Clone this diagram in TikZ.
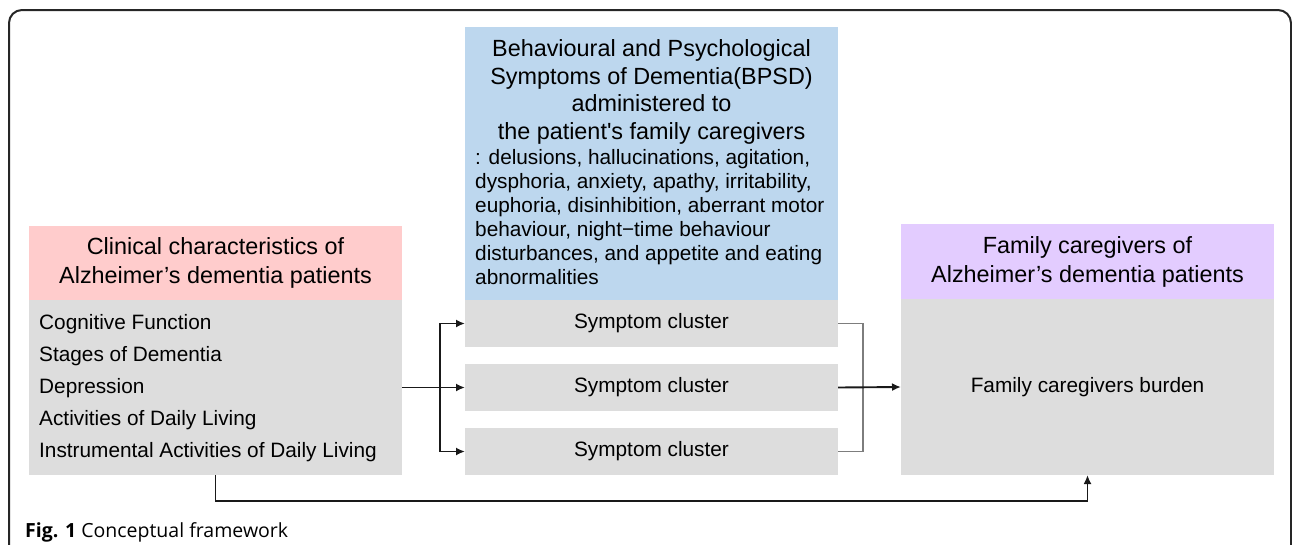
\documentclass[tikz,border=0pt]{standalone}
\usepackage{fontspec}
\newfontfamily\lsans{Liberation Sans}
\newfontfamily\capfont{Open Sans}
\usetikzlibrary{arrows.meta}
\definecolor{pinkc}{RGB}{255,204,204}
\definecolor{bluec}{RGB}{189,215,238}
\definecolor{lilac}{RGB}{227,204,255}
\definecolor{grayc}{RGB}{221,221,221}
\definecolor{bracketc}{RGB}{125,125,125}
\definecolor{linec}{RGB}{25,25,25}
\begin{document}
\begin{tikzpicture}[x=1pt,y=-1pt,
  box/.style={inner sep=0pt, outer sep=0pt, anchor=north west, draw=none},
  title/.style={inner sep=0pt, align=center, font=\lsans\fontsize{23.4}{29}\selectfont},
  body/.style={inner sep=0pt, font=\lsans\fontsize{20.8}{24}\selectfont},
  arr/.style={draw=linec, line width=1.9pt, -{Latex[length=9pt,width=8pt]}},
  bracket/.style={draw=bracketc, line width=1.8pt}
]
\useasboundingbox (0,0) rectangle (1292,544);
% frame
\draw[line width=2pt, draw=black!85, rounded corners=13pt] (9,560) -- (9,10) -- (1291,10) -- (1291,560);

% left block
\node[box, fill=pinkc, minimum width=373pt, minimum height=74pt] (lpink) at (29,226) {};
\node[box, fill=grayc, minimum width=373pt, minimum height=175pt] (lgray) at (29,300) {};
\node[title] (ltitle) at (lpink.center) {Clinical characteristics of\\Alzheimer’s dementia patients};
\node[body, anchor=west, align=left, font=\lsans\fontsize{20.8}{32}\selectfont] (llist) at (39,388)
  {Cognitive Function\\Stages of Dementia\\Depression\\Activities of Daily Living\\Instrumental Activities of Daily Living};

% middle block
\node[box, fill=bluec, minimum width=373pt, minimum height=273pt] (mblue) at (465,27) {};
\node[title, font=\lsans\fontsize{23.4}{27.7}\selectfont] (mtitle) at (651.5,92)
  {Behavioural and Psychological\\Symptoms of Dementia(BPSD)\\administered to\\the patient's family caregivers};
\node[body, anchor=west, align=left] (mbody) at (475,217)
  {: delusions, hallucinations, agitation,\\dysphoria, anxiety, apathy, irritability,\\euphoria, disinhibition, aberrant motor\\behaviour, night−time behaviour\\disturbances, and appetite and eating\\abnormalities};
\node[box, body, fill=grayc, minimum width=373pt, minimum height=47pt] (c1) at (465,300) {Symptom cluster};
\node[box, body, fill=grayc, minimum width=373pt, minimum height=47pt] (c2) at (465,364) {Symptom cluster};
\node[box, body, fill=grayc, minimum width=373pt, minimum height=47pt] (c3) at (465,428) {Symptom cluster};

% right block
\node[box, fill=lilac, minimum width=373pt, minimum height=75pt] (rpink) at (901,224) {};
\node[box, body, fill=grayc, minimum width=373pt, minimum height=176pt] (rgray) at (901,299) {Family caregivers burden};
\node[title] (rtitle) at (rpink.center) {Family caregivers of\\Alzheimer’s dementia patients};

% connectors
\coordinate (br) at (440,388);
\coordinate (rb) at (863,388);
\draw[bracket] (c1.east) -- (c1.east -| rb) -- (c3.east -| rb) -- (c3.east);
\draw[arr] (lgray.east) -- (c2.west);
\draw[arr] (br) |- (c1.west);
\draw[arr] (br) |- (c3.west);
\draw[arr] (c2.east) -- (rgray.west);
\draw[arr] (lgray.south) -- ++(0,26) -| (rgray.south);

% caption
\node[inner sep=0pt, anchor=base west, font=\capfont\fontsize{19.5}{22}\selectfont] (cap) at (25,537)
  {\textbf{Fig. 1} Conceptual framework};
\end{tikzpicture}
\end{document}
